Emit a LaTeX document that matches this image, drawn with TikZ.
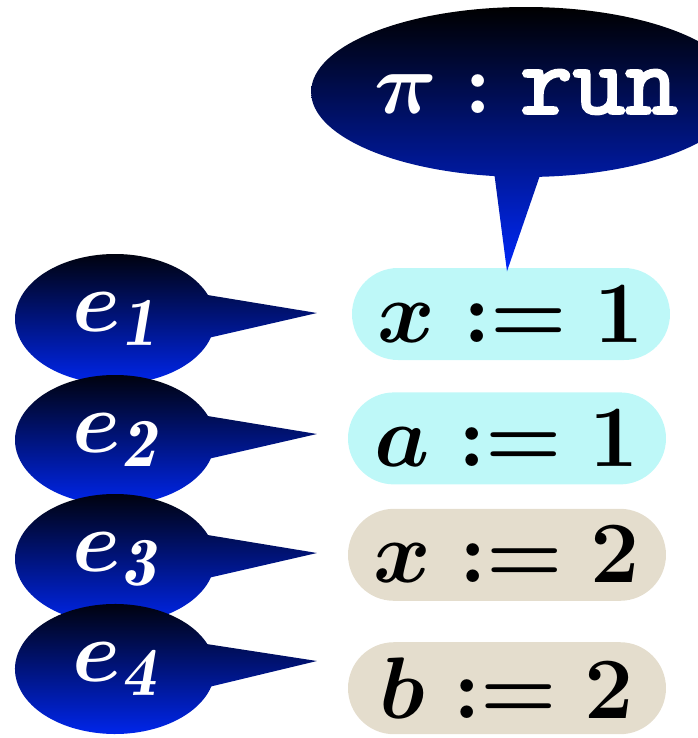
\documentclass[tikz,border=0pt]{standalone}
\usepackage{amsmath}
\usepackage{fontspec}
\usepackage{tikz}
\usetikzlibrary{shapes.callouts, positioning, calc}
\newfontfamily\ttheavy{lmmono10-regular.otf}[FakeBold=2.5]
\definecolor{myblue}{RGB}{0,40,250}
\definecolor{hdrcyan}{RGB}{190,248,248}
\definecolor{hdrtan}{RGB}{228,221,205}
\tikzset{
  stmt/.style={rectangle, fill=hdrcyan, minimum width=3.18cm,
    minimum height=0.92cm, rounded corners=0.46cm, inner sep=0pt,
    font=\Huge\boldmath},
  tanstmt/.style={stmt, fill=hdrtan},
  bubble/.style={ellipse callout, top color=black, bottom color=myblue,
    draw=none, text=white, inner sep=0pt, font=\Huge\boldmath},
  evtbubble/.style={bubble, minimum width=2.0cm, minimum height=1.3cm,
    callout pointer arc=38, font=\fontsize{28}{34}\selectfont\boldmath}
}

\begin{document}
\begin{tikzpicture}
  \clip (0,0) rectangle (6.98,7.38);
  % statements
  \node[stmt] (x1) at (5.11,4.24) {$x := 1$};
  \node[stmt, below=0.31cm of x1.south, anchor=north, xshift=-0.04cm] (a1) {$a := 1$};
  \node[tanstmt, below=0.23cm of a1] (x2) {$x := 2$};
  \node[tanstmt, below=0.40cm of x2] (b2) {$b := 2$};
  % pointer tips
  \coordinate (t1) at (3.17,4.25);
  \coordinate (t2) at (3.17,3.04);
  \coordinate (t3) at (3.17,1.85);
  \coordinate (t4) at (3.17,0.77);
  \coordinate (tp) at ($(x1.north)+(-0.04,-0.04)$);
  % events
  \node[evtbubble, callout absolute pointer={(t1)}] (e1) at (1.15,4.19) {$e_{\mathit{1}}$};
  \node[evtbubble, callout absolute pointer={(t2)}] (e2) at (1.15,2.98) {$e_{\mathit{2}}$};
  \node[evtbubble, callout absolute pointer={(t3)}] (e3) at (1.15,1.79) {$e_{\mathit{3}}$};
  \node[evtbubble, callout absolute pointer={(t4)}] (e4) at (1.15,0.69) {$e_{\mathit{4}}$};
  % process
  \node[bubble, minimum width=4.24cm, minimum height=1.7cm, callout pointer arc=12,
    callout absolute pointer={(tp)}] (pi) at (5.26,6.46)
    {$\pi : \text{\ttheavy\fontsize{28.5}{34}\selectfont run}$};
\end{tikzpicture}
\end{document}
